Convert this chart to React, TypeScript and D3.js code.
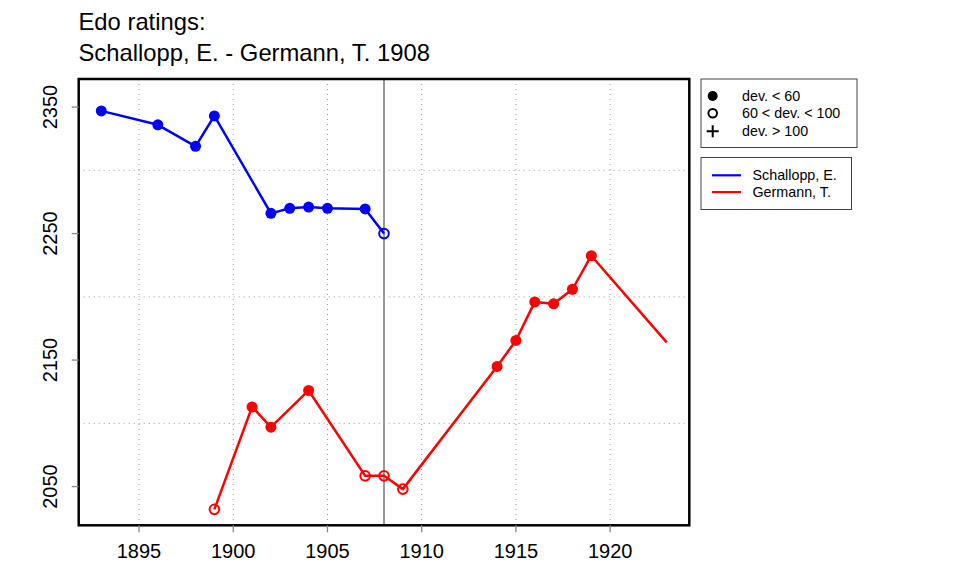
import React from "react";
import * as d3 from "d3";

const schalloppYears = [1893, 1896, 1898, 1899, 1902, 1903, 1904, 1905, 1907, 1908];
const schalloppRatings = [2347, 2336, 2319, 2343, 2266, 2270, 2271, 2270, 2269.5, 2250];
const schalloppDevClass = [0, 0, 0, 0, 0, 0, 0, 0, 0, 1];

const germannYears = [1899, 1901, 1902, 1904, 1907, 1908, 1909, 1914, 1915, 1916, 1917, 1918, 1919, 1923];
const germannRatings = [2032, 2113, 2097, 2126, 2058.5, 2058.5, 2048, 2145, 2165.5, 2196, 2194.5, 2206, 2232.5, 2164];
const germannDevClass = [1, 0, 0, 0, 1, 1, 1, 0, 0, 0, 0, 0, 0, -1];

const xTicks = [1895, 1900, 1905, 1910, 1915, 1920];
const yTicks = [2050, 2150, 2250, 2350];
const yGrid = [2100, 2200, 2300];
const eventYear = 1908;

const titleLines = ["Edo ratings:", "Schallopp, E. - Germann, T. 1908"];
const devLegend = ["dev. < 60", "60 < dev. < 100", "dev. > 100"];
const playerNames = ["Schallopp, E.", "Germann, T."];
const playerColors = ["#0000FF", "#FF0000"];

const FONT = "'Liberation Sans', Arial, Helvetica, sans-serif";

export default function App() {
  const left = 78.7, right = 689.3, top = 79, bottom = 525.3;
  const x = d3.scaleLinear().domain([1891.8, 1924.2]).range([left, right]);
  const y = d3.scaleLinear().domain([2019.4, 2372.2]).range([bottom, top]);

  const line = d3
    .line<[number, number]>()
    .x((d) => x(d[0]))
    .y((d) => y(d[1]));

  const series = [
    { years: schalloppYears, vals: schalloppRatings, cls: schalloppDevClass, color: playerColors[0] },
    { years: germannYears, vals: germannRatings, cls: germannDevClass, color: playerColors[1] },
  ];

  return (
    <svg
      width={960}
      height={576}
      style={{ position: "absolute", left: 0, top: 0, background: "#fff" }}
      fontFamily={FONT}
    >
      <rect x={0} y={0} width={960} height={576} fill="#fff" />
      {/* title */}
      <text x={78.5} y={30} fontSize={23.8} fill="#000">{titleLines[0]}</text>
      <text x={78.5} y={60.5} fontSize={23.8} fill="#000">{titleLines[1]}</text>

      {/* grid */}
      {xTicks.map((t) => (
        <line key={"gx" + t} x1={x(t)} x2={x(t)} y1={top} y2={bottom}
          stroke="#999" strokeWidth={1} strokeDasharray="1 4" />
      ))}
      {yGrid.map((t) => (
        <line key={"gy" + t} x1={left} x2={right} y1={y(t)} y2={y(t)}
          stroke="#999" strokeWidth={1} strokeDasharray="1 4" />
      ))}

      {/* event line */}
      <line x1={x(eventYear)} x2={x(eventYear)} y1={top} y2={bottom} stroke="#999" strokeWidth={2} />

      {/* series */}
      {series.map((s, si) => {
        const pts: [number, number][] = s.years.map((yr, i) => [yr, s.vals[i]]);
        return (
          <g key={"s" + si}>
            <path d={line(pts) || ""} fill="none" stroke={s.color} strokeWidth={2.5} strokeLinejoin="round" />
            {pts.map((p, i) => {
              const c = s.cls[i];
              if (c === 0)
                return <circle key={i} cx={x(p[0])} cy={y(p[1])} r={5.5} fill={s.color} />;
              if (c === 1)
                return <circle key={i} cx={x(p[0])} cy={y(p[1])} r={4.8} fill="none" stroke={s.color} strokeWidth={2} />;
              return null;
            })}
          </g>
        );
      })}

      {/* box */}
      <rect x={left} y={top} width={right - left} height={bottom - top} fill="none" stroke="#000" strokeWidth={2.5} />

      {/* x axis */}
      {xTicks.map((t) => (
        <g key={"xt" + t}>
          <line x1={x(t)} x2={x(t)} y1={bottom} y2={bottom + 7} stroke="#888" strokeWidth={1.3} />
          <text x={x(t)} y={557.5} fontSize={20} textAnchor="middle" fill="#000">{t}</text>
        </g>
      ))}
      {/* y axis */}
      {yTicks.map((t) => (
        <g key={"yt" + t}>
          <line x1={left - 7} x2={left} y1={y(t)} y2={y(t)} stroke="#888" strokeWidth={1.3} />
          <text transform={`translate(56.7,${y(t)}) rotate(-90)`} fontSize={20} textAnchor="middle" fill="#000">{t}</text>
        </g>
      ))}

      {/* legend 1 */}
      <rect x={701} y={79} width={156} height={68.5} fill="#fff" stroke="#444" strokeWidth={1} />
      <circle cx={712.7} cy={96} r={5} fill="#000" />
      <circle cx={712.7} cy={113.3} r={4.3} fill="none" stroke="#000" strokeWidth={2} />
      <path d={`M${712.7 - 6},131.3H${712.7 + 6}M712.7,${131.3 - 6}V${131.3 + 6}`} stroke="#000" strokeWidth={2} />
      {devLegend.map((t, i) => (
        <text key={t} x={742} y={[96, 113.3, 131.3][i] + 5} fontSize={14.3} fill="#000">{t}</text>
      ))}

      {/* legend 2 */}
      <rect x={701} y={157.5} width={150.5} height={52} fill="#fff" stroke="#444" strokeWidth={1} />
      {playerNames.map((n, i) => (
        <g key={n}>
          <line x1={712} x2={741} y1={175.3 + i * 16.8} y2={175.3 + i * 16.8} stroke={playerColors[i]} strokeWidth={2.2} />
          <text x={752.5} y={175.3 + i * 16.8 + 5} fontSize={14.3} fill="#000">{n}</text>
        </g>
      ))}
    </svg>
  );
}
